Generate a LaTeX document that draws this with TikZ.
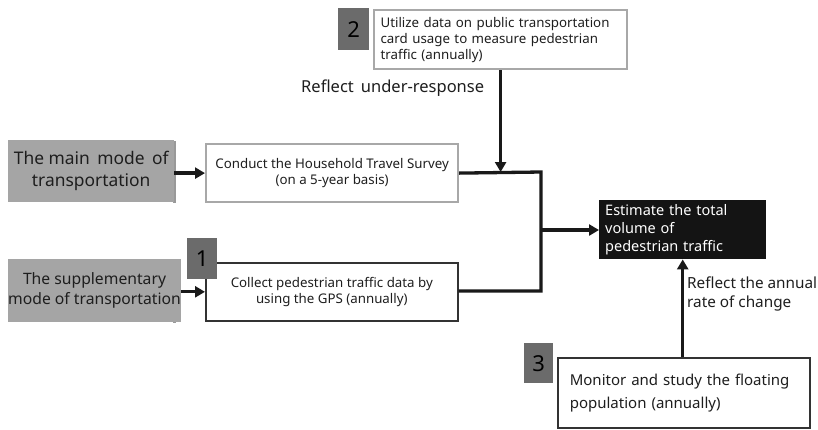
\documentclass[tikz,border=0pt]{standalone}
\usepackage{fontspec}
\setmainfont{Noto Sans}
\usetikzlibrary{arrows.meta}
\definecolor{modegray}{HTML}{A5A5A5}
\definecolor{numgray}{HTML}{6B6B6B}
\definecolor{lightedge}{HTML}{A8A8A8}
\definecolor{darkedge}{HTML}{333333}
\definecolor{txt}{HTML}{1E1E1E}
\tikzset{
  modebox/.style={fill=modegray, draw=none, text=txt, align=center, font=\fontsize{17.4}{22}\selectfont, inner sep=0pt, anchor=north west},
  lightbox/.style={draw=lightedge, line width=2.2pt, fill=white, text=txt, inner sep=0pt, anchor=north west, font=\fontsize{13.3}{16}\selectfont},
  darkbox/.style={draw=darkedge, line width=1.6pt, fill=white, text=txt, inner sep=0pt, anchor=north west, font=\fontsize{13.3}{16}\selectfont},
  numbox/.style={fill=numgray, draw=none, text=black, inner sep=0pt, anchor=north west, font=\fontsize{22}{24}\selectfont},
  blackbox/.style={fill=black!92, draw=none, text=white, inner sep=0pt, anchor=north west, font=\fontsize{14.5}{18}\selectfont},
  conn/.style={line width=3.3pt, draw=black!90},
  arr/.style={conn, -{Triangle[length=10pt,width=11pt]}},
  lbl/.style={text=txt, inner sep=0pt}
}
\begin{document}
\begin{tikzpicture}[x=1pt,y=-1pt]
\useasboundingbox (0,0) rectangle (818,429);
\fill[white] (0,0) rectangle (818,429);

% mode boxes with slight edge shadow
\fill[black!40] (173,141) rectangle (176,203);
\node[modebox, minimum width=166, minimum height=62] (main) at (8,140) {The main\, mode\, of\\transportation};
\fill[black!40] (173,260) rectangle (176,323);
\node[modebox, minimum width=166, minimum height=63, font=\fontsize{15.7}{20}\selectfont] (supp) at (8,259) {The supplementary\\mode of transportation};

% process boxes
\node[lightbox, minimum width=252, minimum height=58, align=center] (survey) at (205,143) {Conduct the Household Travel Survey\\(on a 5-year basis)};
\node[darkbox, minimum width=252, minimum height=58, align=center] (gps) at (205,262) {Collect pedestrian traffic data by\\using the GPS (annually)};
\node[lightbox, minimum width=253, minimum height=59, align=left, text width=240, inner xsep=6pt] (card) at (373,9) {Utilize data on public transportation\\card usage to measure pedestrian\\traffic (annually)};
\node[darkbox, minimum width=251, minimum height=70, align=left, text width=228, inner xsep=12pt, font=\fontsize{15}{23}\selectfont] (float) at (557,357) {Monitor and study the floating\\population (annually)};
\node[blackbox, minimum width=167, minimum height=59, align=left, text width=155, inner xsep=6pt] (est) at (599,200) {Estimate the total\\volume of\\pedestrian traffic};

% number boxes
\node[numbox, minimum width=30, minimum height=41] (n1) at (187,238) {1};
\node[numbox, minimum width=31, minimum height=42] (n2) at (338,8) {2};
\node[numbox, minimum width=29, minimum height=40] (n3) at (524,343) {3};

% labels
\node[lbl, anchor=base west, font=\fontsize{16.5}{20}\selectfont] (under) at (301,92) {Reflect\, under-response};
\node[lbl, anchor=base west, align=left, font=\fontsize{15.3}{19}\selectfont] (annual) at (687,307) {Reflect the annual\\rate of change};

% connectors
\draw[arr] (main.east |- survey.west) -- (survey.west);
\draw[arr] (supp.east |- gps.west) -- (gps.west);
\coordinate (jt) at (541,172);
\coordinate (jb) at (541,291);
\coordinate (jm) at (541,230);
\draw[conn, line cap=butt] (survey.east) -- (jt) -- (jb) -- (gps.east |- jb);
\draw[arr] (jm) -- (est.west |- jm);
\draw[arr] (card.south) -- (card.south |- jt);
\draw[arr] (float.north -| est.south) -- (est.south);
\end{tikzpicture}
\end{document}
